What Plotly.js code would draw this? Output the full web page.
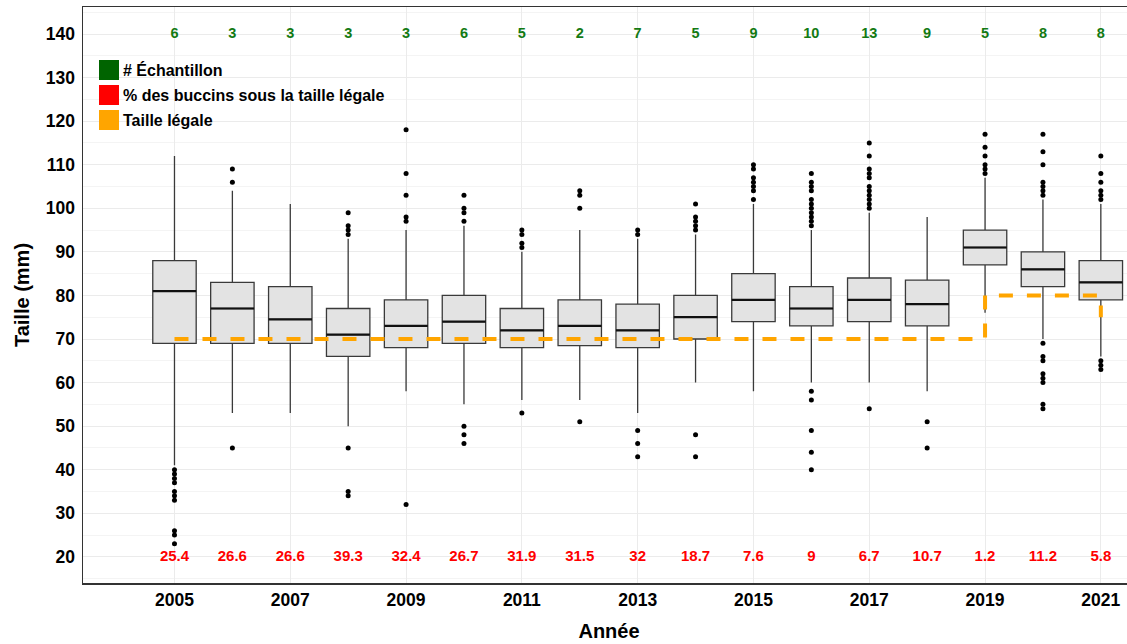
<!DOCTYPE html>
<html>
<head>
<meta charset="utf-8">
<script src="https://cdn.plot.ly/plotly-3.0.1.min.js"></script>
<style>
html,body{margin:0;padding:0;overflow:hidden;background:#fff;}
#chart{width:1135px;height:644px;}
</style>
</head>
<body>
<div id="chart"></div>
<script>
// ---- Data ----
var years = [2005,2006,2007,2008,2009,2010,2011,2012,2013,2014,2015,2016,2017,2018,2019,2020,2021];
var q1     = [69, 69, 69, 66, 68, 69, 68, 68.5, 68, 70, 74, 73, 74, 73, 87, 82, 79];
var median = [81, 77, 74.5, 71, 73, 74, 72, 73, 72, 75, 79, 77, 79, 78, 91, 86, 83];
var q3     = [88, 83, 82, 77, 79, 80, 77, 79, 78, 80, 85, 82, 84, 83.5, 95, 90, 88];
var lowerWhisker = [41, 53, 53, 50, 58, 55, 56, 56, 53, 60, 58, 60, 60, 58, 76, 70, 66];
var upperWhisker = [112, 104, 101, 93, 95, 96, 90, 95, 93, 94, 101, 95, 99, 98, 107, 102, 101];
var outliers = [
  [40,39,38,37,35,34,33,26,25,23],
  [109,106,45],
  [],
  [99,96,95,94,45,35,34],
  [118,108,103,98,97,32],
  [103,100,99,97,50,48,46],
  [95,94,92,91,53],
  [104,103,100,51],
  [95,94,49,46,43],
  [101,98,97,96,95,48,43],
  [110,109,107,106,105,104,102],
  [108,106,105,104,102,101,100,99,98,97,96,58,56,49,44,40],
  [115,112,109,108,107,105,104,103,102,101,100,54],
  [51,45],
  [117,114,112,110,109,108],
  [117,113,110,106,105,104,103,69,66,65,62,61,60,55,54],
  [112,108,106,104,103,102,65,64,63]
];
var tailleLegale = [70,70,70,70,70,70,70,70,70,70,70,70,70,70,80,80,75];
var nEchantillon = [6,3,3,3,3,6,5,2,7,5,9,10,13,9,5,8,8];
var pctSousTaille = [25.4,26.6,26.6,39.3,32.4,26.7,31.9,31.5,32,18.7,7.6,9,6.7,10.7,1.2,11.2,5.8];
var xTicks = [2005,2007,2009,2011,2013,2015,2017,2019,2021];
var yTicks = [20,30,40,50,60,70,80,90,100,110,120,130,140];

// ---- Build traces ----
var FONT = 'Liberation Sans, Arial, sans-serif';
var BOXW = 0.75;

var outX = [], outY = [];
years.forEach(function(yr, i){
  outliers[i].forEach(function(v){ outX.push(yr); outY.push(v); });
});

var medX = [], medY = [];
years.forEach(function(yr, i){
  medX.push(yr - BOXW/2, yr + BOXW/2, null);
  medY.push(median[i], median[i], null);
});

var boxTrace = {
  type: 'box',
  x: years,
  q1: q1, median: median, q3: q3,
  lowerfence: lowerWhisker, upperfence: upperWhisker,
  width: BOXW,
  whiskerwidth: 0,
  boxpoints: false,
  fillcolor: '#E3E3E3',
  line: {color: '#3a3a3a', width: 1.3},
  hoverinfo: 'skip',
  showlegend: false
};

var medTrace = {
  type: 'scatter', mode: 'lines',
  x: medX, y: medY,
  line: {color: '#111', width: 2.2},
  hoverinfo: 'skip', showlegend: false
};

var outTrace = {
  type: 'scatter', mode: 'markers',
  x: outX, y: outY,
  marker: {color: '#000', size: 5},
  hoverinfo: 'skip', showlegend: false
};

var legalTrace = {
  type: 'scatter', mode: 'lines',
  x: years, y: tailleLegale,
  line: {color: '#FFA500', width: 4, shape: 'hv', dash: '14px,14px'},
  hoverinfo: 'skip', showlegend: false
};

var nTrace = {
  type: 'scatter', mode: 'text',
  x: years, y: years.map(function(){ return 140; }),
  text: nEchantillon.map(String),
  textposition: 'middle center',
  textfont: {family: FONT, size: 14.5, color: '#137a13', weight: 'bold'},
  hoverinfo: 'skip', showlegend: false
};

var pctTrace = {
  type: 'scatter', mode: 'text',
  x: years, y: years.map(function(){ return 20; }),
  text: pctSousTaille.map(String),
  textposition: 'middle center',
  textfont: {family: FONT, size: 15, color: '#FF0000', weight: 'bold'},
  hoverinfo: 'skip', showlegend: false
};

// ---- Manual legend ----
var legendItems = [
  {label: '# Échantillon', color: '#006400'},
  {label: '% des buccins sous la taille légale', color: '#FF0000'},
  {label: 'Taille légale', color: '#FFA500'}
];
var plotL = 83, plotR = 1135, plotT = 7, plotB = 583;
function px2paperX(p){ return (p - plotL) / (plotR - plotL); }
function px2paperY(p){ return (plotB - p) / (plotB - plotT); }
var shapes = [], annotations = [];
legendItems.forEach(function(it, k){
  var top = 60 + 25*k;
  shapes.push({type: 'rect', xref: 'paper', yref: 'paper',
    x0: px2paperX(99), x1: px2paperX(119), y0: px2paperY(top + 20), y1: px2paperY(top),
    fillcolor: it.color, line: {width: 0}, layer: 'above'});
  annotations.push({xref: 'paper', yref: 'paper', x: px2paperX(121), y: px2paperY(top + 10),
    xanchor: 'left', yanchor: 'middle', showarrow: false, text: it.label,
    font: {family: FONT, size: 16, color: '#000', weight: 'bold'}});
});

var layout = {
  width: 1135, height: 644,
  margin: {l: plotL, r: 0, t: plotT, b: 644 - plotB},
  paper_bgcolor: '#fff', plot_bgcolor: '#fff',
  showlegend: false,
  font: {family: FONT, color: '#000'},
  xaxis: {
    range: [2003.42, 2021.59],
    tickvals: xTicks, ticktext: xTicks.map(String),
    ticks: '', showline: true, linecolor: '#333', linewidth: 1.5, mirror: true,
    showgrid: true, gridcolor: '#EBEBEB', gridwidth: 1, zeroline: false,
    tickfont: {family: FONT, size: 17.5, color: '#000', weight: 'bold'},
    title: {text: 'Année', font: {family: FONT, size: 20, color: '#000', weight: 'bold'}, standoff: 15}
  },
  yaxis: {
    range: [14, 146.2],
    tickvals: yTicks, ticktext: yTicks.map(String),
    ticks: '', showline: true, linecolor: '#333', linewidth: 1.5, mirror: true,
    showgrid: true, gridcolor: '#EBEBEB', gridwidth: 1, zeroline: false,
    minor: {dtick: 5, tick0: 0, showgrid: true, gridcolor: '#F4F4F4', gridwidth: 1, ticks: ''},
    tickfont: {family: FONT, size: 17.5, color: '#000', weight: 'bold'},
    ticklabelstandoff: 3,
    title: {text: 'Taille (mm)', font: {family: FONT, size: 20, color: '#000', weight: 'bold'}, standoff: 11}
  },
  shapes: shapes,
  annotations: annotations
};

Plotly.newPlot('chart', [boxTrace, medTrace, outTrace, legalTrace, nTrace, pctTrace], layout,
  {staticPlot: true, displayModeBar: false});
</script>
</body>
</html>
